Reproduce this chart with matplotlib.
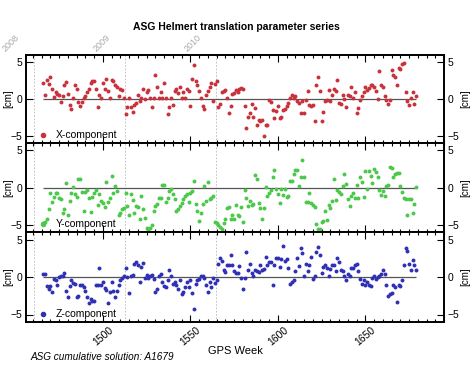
import matplotlib
matplotlib.use("Agg")
import matplotlib.pyplot as plt
from matplotlib.ticker import MultipleLocator
from matplotlib.lines import Line2D
import matplotlib.transforms as mtransforms

plt.rcParams['font.family'] = ['Liberation Sans', 'DejaVu Sans']

# ---------------- data ----------------
weeks = [
    1466, 1467, 1468, 1469, 1470, 1471, 1472, 1473, 1474, 1475,
    1476, 1477, 1478, 1479, 1480, 1481, 1482, 1483, 1484, 1485,
    1486, 1487, 1488, 1489, 1490, 1491, 1492, 1493, 1494, 1495,
    1496, 1497, 1498, 1499, 1500, 1501, 1502, 1503, 1504, 1505,
    1506, 1507, 1508, 1509, 1510, 1511, 1512, 1513, 1514, 1515,
    1516, 1517, 1518, 1519, 1520, 1521, 1522, 1523, 1524, 1525,
    1526, 1527, 1528, 1529, 1530, 1531, 1532, 1533, 1534, 1535,
    1536, 1537, 1538, 1539, 1540, 1541, 1542, 1543, 1544, 1545,
    1546, 1547, 1548, 1549, 1550, 1551, 1552, 1553, 1554, 1555,
    1556, 1557, 1558, 1559, 1560, 1561, 1562, 1563, 1564, 1565,
    1566, 1567, 1568, 1569, 1570, 1571, 1572, 1573, 1574, 1575,
    1576, 1577, 1578, 1579, 1580, 1581, 1582, 1583, 1584, 1585,
    1586, 1587, 1588, 1589, 1590, 1591, 1592, 1593, 1594, 1595,
    1596, 1597, 1598, 1599, 1600, 1601, 1602, 1603, 1604, 1605,
    1606, 1607, 1608, 1609, 1610, 1611, 1612, 1613, 1614, 1615,
    1616, 1617, 1618, 1619, 1620, 1621, 1622, 1623, 1624, 1625,
    1626, 1627, 1628, 1629, 1630, 1631, 1632, 1633, 1634, 1635,
    1636, 1637, 1638, 1639, 1640, 1641, 1642, 1643, 1644, 1645,
    1646, 1647, 1648, 1649, 1650, 1651, 1652, 1653, 1654, 1655,
    1656, 1657, 1658, 1659, 1660, 1661, 1662, 1663, 1664, 1665,
    1666, 1667, 1668, 1669, 1670, 1671, 1672, 1673, 1674, 1675,
    1676, 1677, 1678, 1679,
]

x_component = [
    2.25, 0.6, 2.6, 2.0, 3.0, 1.35, 0.3, 0.9, 0.7, 0.6,
    -0.4, 0.45, 1.9, 2.3, 0.7, -0.85, -1.35, 0.15, 1.9, 1.35,
    -0.45, -1.0, -0.45, 0.1, 0.35, 0.9, 1.35, 2.25, 2.4, 2.5,
    1.35, -1.1, 0.6, 0.2, 2.25, 1.35, 2.75, 1.05, 0.1, 2.6,
    2.4, 1.9, 1.7, 0.35, 1.35, 1.25, 0.1, -2.1, -1.1, 0.1,
    -1.1, -1.8, -0.75, -0.55, 0.6, -0.3, 0.2, 1.35, 0.0, 0.9,
    1.25, 0.1, -1.1, 0.2, 3.3, 1.6, 0.1, 0.9, 0.1, 2.15,
    0.2, -2.1, -1.1, 0.2, -0.75, 1.1, 1.35, 0.8, 1.6, 0.1,
    0.9, 0.1, 1.35, 1.1, -1.0, 2.7, 4.6, 2.5, 1.9, 1.05,
    0.1, -1.0, -1.35, 0.6, 1.1, 1.6, 2.15, -0.3, 2.0, 2.4,
    -1.1, -0.7, 0.9, 1.05, 1.25, 0.1, -1.9, -1.0, 0.7, 0.8,
    1.25, 0.9,
    1.4, 1.5, 1.3, -1.0, -3.9, -2.5, -1.9, -0.7, -2.5, -1.2,
    -3.5, -2.8, -3.0, -2.8, -5.0, -3.6, -3.6, -0.2, -0.45, -1.45,
    -2.65, -1.65, -0.9, -2.55, -2.5, -1.45, -1.35, -1.0, -0.55, 0.1,
    0.6, 0.1, 0.35, -0.3, -0.55, -1.9, -0.3, -1.9, -0.1, 1.1,
    -0.75, -1.0, -0.85, -3.0, 1.85, 3.05, 1.05, -3.0, -1.8, -0.3,
    -0.1, 1.25, -0.3, 0.6, 1.35, 1.1, 2.6, -0.55, -0.7, 0.5,
    0.0, -1.1, 0.6, 0.35, 1.6, 0.2, 0.9, -1.9, -1.2, -0.1,
    0.35, 0.9, 1.7, 1.25, 1.5, 1.85, 1.85, 1.7, 1.1, 0.0,
    3.8, 1.85, 1.7, 0.45, -0.1, -0.7, -0.2, 3.95, 3.3, 3.05,
    1.85, 4.2, 4.1, 4.8, 4.85, 0.9, -0.3, -0.75, 0.2, 0.9,
    -0.7, 0.35,
]

y_component = [
    -4.85, -4.65, -4.2, -2.9, -0.8, -1.95, -1.25, -0.8, -0.7, -1.35,
    -1.6, -3.5, -2.85, 0.6, -3.75, -1.8, -0.7, 0.1, -0.9, -1.25,
    1.2, 1.2, -0.6, -3.15, -0.6, -0.35, -1.35, -3.3, -1.25, -0.8,
    -0.35, -2.4, -0.9, -1.8, -2.15, -2.6, 0.8, -1.95, -1.35, 1.5,
    -0.7, 0.2, -0.45, -3.75, -3.4, -2.9, -2.7, -0.8, -2.5, -3.75,
    -0.9, -1.7, -3.5, -2.5, -2.6, -4.3, -1.15, -2.9, -4.05, -5.5,
    -5.7, -5.4, -5.1, -3.15, -2.55, -2.25, -1.35, -1.35, 0.3, 0.35,
    -2.0, -1.35, -0.45, -0.2, -0.9, -1.6, -3.15, -2.85, -2.5, -2.15,
    -1.6, -1.15, -0.9, -2.0, -0.7, -0.45, 0.9, -2.25, -3.15, -4.5,
    -3.4, -2.25, 0.2, -1.8, 0.75, -1.5, -1.35, -1.15,
    -4.6, -4.75, -5.1, -5.3, -5.6, -4.8, -4.3, -2.7,
    -2.6, -4.3, -3.75, -4.2, -2.4, -3.75, -3.9, -2.6, -4.7, -0.35,
    -1.35, -2.5, -1.8, -2.4, -2.25, 1.65, 1.2, -2.15, -2.8, -4.2,
    -2.7, 0.1, -1.15, -0.7, -0.35, 1.45, 2.35, -0.15, -0.9, -2.1,
    -0.15, -1.05, -0.2, -1.25, -1.15, 0.9, 0.9, 1.8, 2.35, 2.35,
    0.2, 1.45, 3.75, 1.35, -1.95, -1.95, -0.8, -2.15, -2.4, -2.6,
    -4.95, -5.55, -5.55, -4.6, -4.5, -3.15, -4.35, -2.4, -2.7, -1.8,
    1.1, -1.65, -0.35, -0.6, -0.9, 0.2, 1.8, 0.45, -1.6, -2.5,
    -1.15, -0.7, -1.35, 0.3, -1.35, 1.35, 0.7, -1.25, 2.25, -0.2,
    2.25, 1.6, 0.6, 2.5, 2.1, 1.35, -0.35, -1.05, -0.45, -1.15,
    0.2, 0.3, 2.7, 2.6, 1.35, 1.8, 1.9, 1.95, 0.2, -0.6,
    -1.35, -1.6, -3.75, -1.5, -1.6, -3.5, -2.25, 0.1,
]

z_component = [
    0.35, 0.35, -1.25, -1.6, -1.25, -1.95, -0.2, -0.35, -1.05, 0.0,
    0.1, 0.1, 0.55, -1.8, -2.7, -1.25, -0.45, -0.75, -0.9, -2.7,
    -2.5, -1.1, -1.1, -1.35, -1.8, -2.6, -3.45, -2.9, -3.15, -3.15,
    -1.05, -1.0, 1.15, -1.1, -0.7, -1.5, -1.7, -3.5, -1.95, -0.7,
    -1.8, -2.7, -1.8, -1.1, -0.35, -0.15, 0.2, 1.2, 0.0, -2.15,
    0.2, 0.3, 1.8, 2.0, 1.6, -0.7, 1.35, 1.9, -0.15, 0.3,
    -0.15, 0.2, 0.3, -0.2, -1.95, -1.6, 0.2, 0.45, -0.7, -1.25,
    -1.35, -0.45, 0.9, 0.2, -0.9, -0.7, -1.05, -1.6, -0.45, -2.25,
    -1.95, -1.35, -0.7, -1.35, -0.35, -2.15, -4.2, -0.9, -0.35, -0.2,
    0.1, 0.1, -0.15, -1.1, -1.95, -0.6, -1.35, -0.15, -0.8, -0.35,
    1.8, 2.55, 2.1, 1.0, 0.7, 1.65, 1.65, 3.0, 1.65, 0.75,
    0.55,
    0.6, 1.45, -0.15, -1.6, -0.15, 3.3, 1.0, 1.8, 0.55, 0.1,
    1.0, 0.75, 0.7, 1.65, 0.9, 1.05, 2.7, 1.6, 2.0, 2.0,
    -1.05, 1.6, 2.5, 2.5, 1.35, 2.4, 4.2, 2.1, 2.35, 1.2,
    -0.9, -0.7, -0.35, 0.75, 2.5, 1.45, 3.9, 3.15, 0.1, 1.8,
    0.75, 1.6, 2.7, -0.2, 0.1, 3.3, 4.05, 3.0, 0.55, 1.35,
    1.6, 1.2, 0.1, 1.1, 1.6, 1.65, 0.75, 2.55, 2.0, 1.0,
    0.75, 0.1, -0.35, 0.45, 0.1, 1.2, 1.2, 1.65, 1.8, 0.75,
    -0.2, -0.9, -0.35, -1.05, -0.6, -1.05, -1.25, -0.15, 0.1, -0.2,
    0.0, 0.2, 0.45, 0.9, 0.45, -1.05, -2.5, -2.25, -2.15, -1.1,
    -1.35, -3.3, -1.05, -1.25, -0.35, 1.6, 3.9, 3.45, 1.8, 0.9,
    2.25, 1.6, 0.9,
]

series_names = ["X-component", "Y-component", "Z-component"]
series_colors = ["#c8323c", "#4cc84c", "#3030b4"]
year_labels = ["2008", "2009", "2010"]
year_weeks = [1460.3, 1512.6, 1564.7]
xtick_weeks = [1500, 1550, 1600, 1650]
ytick_vals = [-5, 0, 5]

title = "ASG Helmert translation parameter series"
xlabel = "GPS Week"
ylabel = "[cm]"
caption = "ASG cumulative solution: A1679"

# ---------------- figure ----------------
W, H = 475, 370
fig = plt.figure(figsize=(W / 100, H / 100), dpi=100)
left_px, right_px = 26, 444
edges_px = [55, 143, 232, 322]
ax_w_px = right_px - left_px

series = [x_component, y_component, z_component]
axes = []
for i in range(3):
    top, bot = edges_px[i], edges_px[i + 1]
    ax = fig.add_axes([left_px / W, 1 - bot / H, ax_w_px / W, (bot - top) / H])
    axes.append(ax)
    vals = series[i]
    ax.set_xlim(1456, 1695)
    ax.set_ylim(-6, 6)
    for yw in year_weeks:
        ax.axvline(yw, color="#b8b8b8", lw=0.6, ls=(0, (2, 2)), zorder=1)
    ax.hlines(0, weeks[0], weeks[-1], color="#555555", lw=0.9, zorder=2)
    ax.scatter(weeks, vals, s=8, color=series_colors[i], linewidths=0, zorder=3)
    ax.set_xticks(xtick_weeks)
    ax.xaxis.set_minor_locator(MultipleLocator(5))
    ax.set_yticks(ytick_vals)
    ax.tick_params(which="both", direction="in", top=True, bottom=True,
                   left=True, right=True, labelright=True, labelleft=True,
                   labelsize=7.5, width=0.8, pad=2.5)
    ax.tick_params(which="major", length=5)
    ax.tick_params(which="minor", length=2.5)
    for s in ax.spines.values():
        s.set_linewidth(1.4)
    if i < 2:
        ax.tick_params(labelbottom=False)
    ax.text((8 - left_px) / ax_w_px, 0.5, ylabel, transform=ax.transAxes, rotation=90,
            ha="center", va="center", fontsize=7)
    ax.text((465 - left_px) / ax_w_px, 0.5, ylabel, transform=ax.transAxes, rotation=90,
            ha="center", va="center", fontsize=7)
    h = Line2D([], [], marker="o", ls="none", color=series_colors[i], markersize=3)
    ax.legend([h], [series_names[i]], loc="lower left", frameon=False,
              bbox_to_anchor=(0.022, 0.0), fontsize=7.5, handlelength=1.0,
              handletextpad=0.7, borderaxespad=0.05, borderpad=0.2)

for lab in axes[2].get_xticklabels():
    lab.set_rotation(40)
    lab.set_ha("center")

# year labels above top panel
for yl, yw in zip(year_labels, year_weeks):
    tr = mtransforms.blended_transform_factory(axes[0].transData, axes[0].transAxes)
    tr = mtransforms.offset_copy(tr, fig=fig, x=-27, y=2, units="dots")
    axes[0].text(yw, 1.0, yl, transform=tr, rotation=45, rotation_mode="anchor",
                 ha="left", va="bottom", fontsize=6.5, color="#a8a8a8", clip_on=False)

fig.text(236 / W, 1 - 27 / H, title, ha="center", va="center", fontsize=7.5, fontweight="bold")
fig.text(235 / W, 1 - 351 / H, xlabel, ha="center", va="center", fontsize=8)
fig.text(30 / W, 1 - 357 / H, caption, ha="left", va="center", fontsize=7.2, style="italic")

fig.savefig("out.png", dpi=100)
